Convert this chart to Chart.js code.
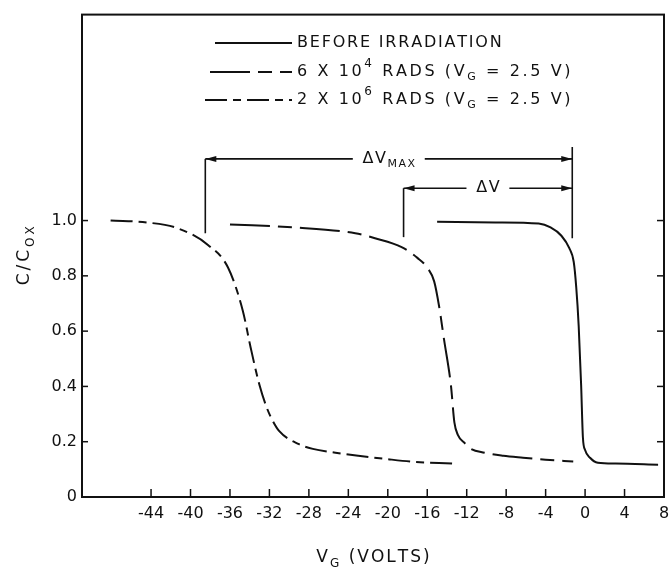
<!DOCTYPE html>
<html>
<head>
<meta charset="utf-8">
<script src="https://cdn.jsdelivr.net/npm/chart.js@4.4.1/dist/chart.umd.min.js"></script>
<style>
  html, body { margin: 0; padding: 0; background: #fff; }
  #wrap { width: 669px; height: 575px; }
</style>
</head>
<body>
<div id="wrap"><canvas id="grafico" width="669" height="575"></canvas></div>
<script>
// antes da irradiacao
const vAntes = [-15.0, -9.1, -4.7, -3.5, -2.4, -1.6, -1.15, -0.9, -0.65, -0.4, -0.22, 0.0, 0.5, 1.3, 3.1, 7.4];
const cAntes = [0.996, 0.993, 0.989, 0.975, 0.945, 0.9, 0.85, 0.76, 0.62, 0.404, 0.215, 0.17, 0.142, 0.124, 0.121, 0.117];

// 6 x 10^4 rads
const v6e4 = [-36.0, -29.3, -23.3, -21.3, -18.6, -17.0, -16.0, -15.3, -14.8, -14.3, -13.6, -13.25, -12.9, -12.2, -11.7, -10.2, -8.3, -6.3, -4.0, -1.2];
const c6e4 = [0.986, 0.975, 0.954, 0.936, 0.904, 0.865, 0.83, 0.78, 0.69, 0.57, 0.404, 0.27, 0.225, 0.195, 0.177, 0.16, 0.149, 0.142, 0.135, 0.128];

// 2 x 10^6 rads
const v2e6 = [-48.1, -44.4, -41.3, -38.2, -36.2, -34.7, -33.9, -33.0, -32.3, -31.8, -31.0, -29.0, -27.6, -25.3, -23.0, -20.3, -17.6, -13.4];
const c2e6 = [1.0, 0.993, 0.972, 0.911, 0.83, 0.674, 0.54, 0.404, 0.326, 0.285, 0.238, 0.191, 0.174, 0.16, 0.149, 0.138, 0.128, 0.121];

const xTicks = [-44, -40, -36, -32, -28, -24, -20, -16, -12, -8, -4, 0, 4, 8];
const yTicks = [0, 0.2, 0.4, 0.6, 0.8, 1.0];

// deltas (volts e C/Cox)
const dVmaxV = [-38.5, -1.3];
const dVV = [-18.4, -1.3];
const dVmaxC = 1.223;
const dVC = 1.117;

const tinta = '#111';
const fonte = 'DejaVu Sans';

function pares(vs, cs) {
  return vs.map((v, i) => ({ x: v, y: cs[i] }));
}

// escreve texto letra a letra, com sub/sobrescrito
function escreve(ctx, partes, x, y, esp, tam, desenhar) {
  let cx = x;
  partes.forEach(p => {
    let dy = 0, t = tam;
    if (p.tipo === 'sup') { t = Math.round(tam * 0.72); dy = -tam * 0.5; }
    if (p.tipo === 'sub') { t = Math.round(tam * 0.7); dy = tam * 0.32; }
    ctx.font = t + 'px "' + fonte + '"';
    for (const ch of p.t) {
      if (desenhar) ctx.fillText(ch, cx, y + dy);
      cx += ctx.measureText(ch).width + esp;
    }
  });
  return cx - x;
}

function centrado(ctx, partes, xc, y, esp, tam) {
  const w = escreve(ctx, partes, 0, 0, esp, tam, false) - esp;
  escreve(ctx, partes, xc - w / 2, y, esp, tam, true);
  return w;
}

function seta(ctx, x, y, dir) {
  ctx.beginPath();
  ctx.moveTo(x, y);
  ctx.lineTo(x - dir * 11, y - 3);
  ctx.lineTo(x - dir * 11, y + 3);
  ctx.closePath();
  ctx.fill();
}

function linha(ctx, x1, y1, x2, y2) {
  ctx.beginPath();
  ctx.moveTo(x1, y1);
  ctx.lineTo(x2, y2);
  ctx.stroke();
}

const moldura = {
  id: 'moldura',
  afterDraw(chart) {
    const ctx = chart.ctx;
    const a = chart.chartArea;
    const sx = chart.scales.x, sy = chart.scales.y;
    ctx.save();
    ctx.strokeStyle = tinta;
    ctx.fillStyle = tinta;
    ctx.lineWidth = 2;
    ctx.strokeRect(a.left, a.top, a.right - a.left, a.bottom - a.top);

    // ticks para dentro
    ctx.lineWidth = 1.5;
    sx.ticks.forEach(t => {
      const px = sx.getPixelForValue(t.value);
      if (px > a.right - 2) return;
      linha(ctx, px, a.bottom, px, a.bottom - 8);
    });
    sy.ticks.forEach(t => {
      if (t.value === 0) return;
      const py = sy.getPixelForValue(t.value);
      linha(ctx, a.left, py, a.left + 6, py);
      linha(ctx, a.right, py, a.right - 7, py);
    });

    // legenda
    ctx.textBaseline = 'middle';
    ctx.textAlign = 'left';
    const linhas = [
      { y: 43, x0: 215, esp: 1.8, dash: [], partes: [{ t: 'BEFORE IRRADIATION' }] },
      { y: 72, x0: 210, esp: 2.6, dash: chart.data.datasets[1].borderDash,
        partes: [{ t: '6 X 10' }, { t: '4', tipo: 'sup' }, { t: ' RADS (V' }, { t: 'G', tipo: 'sub' }, { t: ' = 2.5 V)' }] },
      { y: 100, x0: 205, esp: 2.6, dash: chart.data.datasets[2].borderDash,
        partes: [{ t: '2 X 10' }, { t: '6', tipo: 'sup' }, { t: ' RADS (V' }, { t: 'G', tipo: 'sub' }, { t: ' = 2.5 V)' }] }
    ];
    linhas.forEach(l => {
      ctx.lineWidth = 2;
      ctx.setLineDash(l.dash);
      linha(ctx, l.x0, l.y, 292, l.y);
      ctx.setLineDash([]);
      escreve(ctx, l.partes, 297, l.y, l.esp, 16, true);
    });

    // delta V max e delta V
    ctx.lineWidth = 1.6;
    const xa = sx.getPixelForValue(dVmaxV[0]);
    const xb = sx.getPixelForValue(dVmaxV[1]);
    const xc = sx.getPixelForValue(dVV[0]);
    const ym = sy.getPixelForValue(dVmaxC);
    const yd = sy.getPixelForValue(dVC);
    linha(ctx, xa, ym, xa, sy.getPixelForValue(0.954));
    linha(ctx, xb, sy.getPixelForValue(1.266), xb, sy.getPixelForValue(0.936));
    linha(ctx, xc, yd, xc, sy.getPixelForValue(0.94));

    const marca = (x1, x2, y, partes) => {
      const w = escreve(ctx, partes, 0, 0, 1.5, 16, false);
      const meio = (x1 + x2) / 2;
      linha(ctx, x1, y, meio - w / 2 - 9, y);
      linha(ctx, meio + w / 2 + 9, y, x2, y);
      seta(ctx, x1, y, -1);
      seta(ctx, x2, y, 1);
      centrado(ctx, partes, meio, y, 1.5, 16);
    };
    marca(xa, xb, ym, [{ t: '\u0394V' }, { t: 'MAX', tipo: 'sub' }]);
    marca(xc, xb, yd, [{ t: '\u0394V' }]);

    // titulos dos eixos
    centrado(ctx, [{ t: 'V' }, { t: 'G', tipo: 'sub' }, { t: ' (VOLTS)' }], (a.left + a.right) / 2, 558, 2, 17);
    ctx.translate(25, (a.top + a.bottom) / 2);
    ctx.rotate(-Math.PI / 2);
    centrado(ctx, [{ t: 'C/C' }, { t: 'OX', tipo: 'sub' }], 0, 0, 3, 17);
    ctx.restore();
  }
};

const estiloLinha = { borderColor: tinta, borderWidth: 2, pointRadius: 0, fill: false, cubicInterpolationMode: 'monotone' };

new Chart(document.getElementById('grafico'), {
  type: 'line',
  data: {
    datasets: [
      { ...estiloLinha, label: 'BEFORE IRRADIATION', data: pares(vAntes, cAntes) },
      { ...estiloLinha, label: '6 X 10^4 RADS', data: pares(v6e4, c6e4), borderDash: [40, 8, 14, 8] },
      { ...estiloLinha, label: '2 X 10^6 RADS', data: pares(v2e6, c2e6), borderDash: [22, 6, 8, 6] }
    ]
  },
  options: {
    responsive: false,
    animation: false,
    devicePixelRatio: 1,
    layout: { padding: { top: 5, right: 5, left: 0, bottom: 0 } },
    plugins: { legend: { display: false }, tooltip: { enabled: false } },
    scales: {
      x: {
        type: 'linear',
        min: -51,
        max: 8,
        grid: { display: false, drawTicks: false },
        border: { display: false },
        afterBuildTicks: s => { s.ticks = xTicks.map(v => ({ value: v })); },
        ticks: {
          autoSkip: false, maxRotation: 0, padding: 7, color: tinta,
          font: { family: fonte, size: 16 },
          callback: v => String(v)
        },
        afterFit: s => { s.height = 78; s.paddingLeft = 0; s.paddingRight = 0; }
      },
      y: {
        type: 'linear',
        min: 0,
        max: 1.745,
        grid: { display: false, drawTicks: false },
        border: { display: false },
        afterBuildTicks: s => { s.ticks = yTicks.map(v => ({ value: v })); },
        ticks: {
          padding: 5, color: tinta,
          font: { family: fonte, size: 16 },
          callback: v => v === 0 ? '0' : v.toFixed(1)
        },
        afterFit: s => { s.width = 82; }
      }
    }
  },
  plugins: [moldura]
});
</script>
</body>
</html>
